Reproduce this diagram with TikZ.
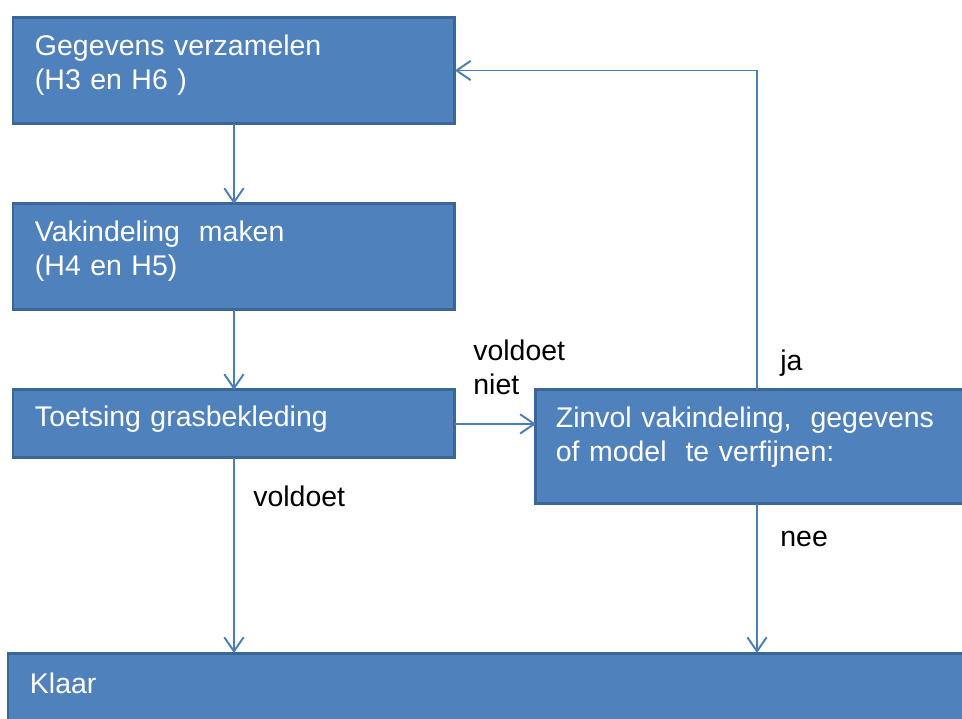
\documentclass[tikz,border=0pt]{standalone}
\usepackage{fontspec}
\setmainfont{Liberation Sans}
\usepackage{tikz}
\usetikzlibrary{arrows.meta,positioning,calc}
\definecolor{boxfill}{HTML}{4F81BD}
\definecolor{boxline}{HTML}{3A6798}
\definecolor{arrowblue}{HTML}{4A7EBB}
\tikzset{
  stap/.style={rectangle, draw=boxline, fill=boxfill, line width=1.7pt, text=white,
               align=left, inner xsep=0.44cm, inner ysep=0pt, outer sep=0pt, anchor=north west,
               font=\fontsize{16.2}{19.3}\selectfont},
  lbl/.style={font=\fontsize{16.2}{19.3}\selectfont, text=black, align=left, inner sep=0pt},
  flow/.style={-{Straight Barb[length=8pt,width=11pt]}, draw=arrowblue, line width=1.1pt}
}
\begin{document}
\begin{tikzpicture}[x=0.02cm, y=-0.02cm]
  \useasboundingbox (0,0) rectangle (962,718);
  \node[stap, text width=7.96cm, text height=0.78cm, text depth=1.36cm] (verzamel) at (13,17)
    {Gegevens verzamelen\\(H3 en H6 )};
  \node[stap, text width=7.96cm, text height=0.76cm, text depth=1.36cm, below=1.6cm of verzamel] (vakken)
    {Vakindeling\ \ maken\\(H4 en H5)};
  \node[stap, text width=7.96cm, text height=0.74cm, text depth=0.62cm, below=1.6cm of vakken] (toets)
    {Toetsing grasbekleding};
  \node[stap, text width=8.4cm, text height=0.76cm, text depth=1.52cm, inner xsep=0.4cm,
        right=1.62cm of toets.north east, anchor=north west] (zinvol)
    {Zinvol vakindeling,\ \ gegevens\\of model\ \ te verfijnen:};
  \node[stap, text width=18.6cm, text height=0.8cm, text depth=2cm] (klaar) at (8,653)
    {Klaar};
  \coordinate (terug) at (757,70);
  % labels
  \node[lbl, anchor=north west] (nietok) at (473,340) {voldoet\\niet};
  \node[lbl, anchor=base west] (ja) at (780,370) {ja};
  \node[lbl, anchor=base west] (ok) at (253,506) {voldoet};
  \node[lbl, anchor=base west] (nee) at (780,546) {nee};
  % connectors
  \draw[flow] (verzamel)--(vakken);
  \draw[flow] (vakken)--(toets);
  \draw[flow] (toets.south)--(klaar.north -| toets.south);
  \draw[flow] (toets.east)--(zinvol.west |- toets.east);
  \draw[flow] (zinvol.north -| terug) |- (verzamel.east);
  \draw[flow] (zinvol.south -| terug)--(klaar.north -| terug);
\end{tikzpicture}
\end{document}
